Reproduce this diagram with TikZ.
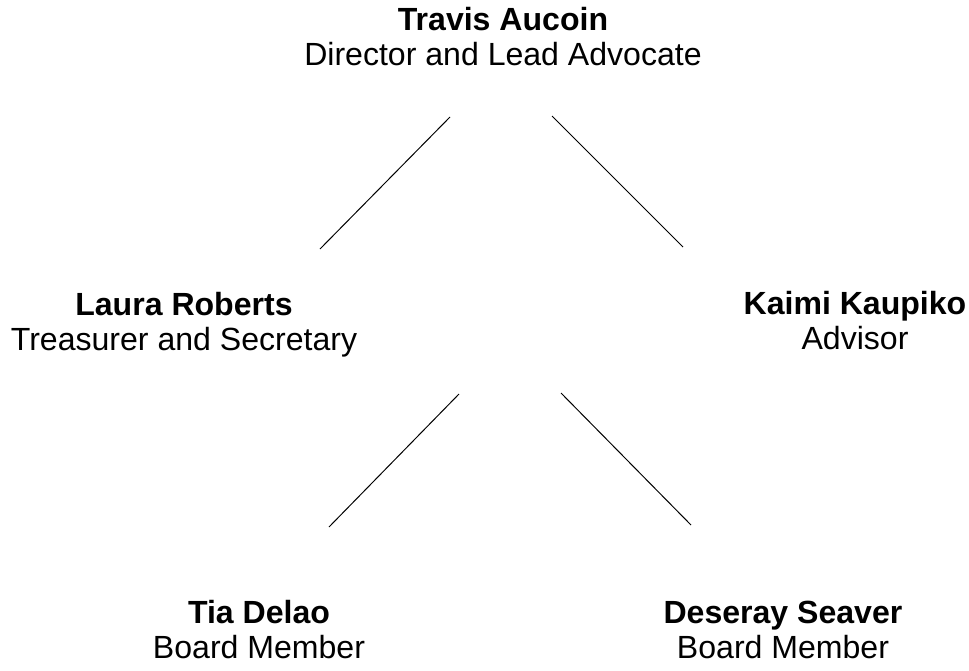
\documentclass[tikz,border=0pt]{standalone}
\usepackage{fontspec}
\setmainfont{Liberation Sans}
\usepackage{tikz}

\begin{document}
\begin{tikzpicture}[x=0.025cm, y=-0.025cm,
        person/.style={align=center, inner sep=0pt, anchor=base, font=\fontsize{22.8}{24.3}\selectfont},
        link/.style={line width=0.7pt}]
        % Frame of the picture (pixel units, y pointing down)
        \useasboundingbox (0, 0) rectangle (969, 671);

        % People (placed at the baseline of their last line)
        \node[person] (travis)  at (503, 65)  {\textbf{Travis Aucoin}\\Director and Lead Advocate};
        \node[person] (laura)   at (184, 350) {\textbf{Laura Roberts}\\Treasurer and Secretary};
        \node[person] (kaimi)   at (855, 349) {\textbf{Kaimi Kaupiko}\\Advisor};
        \node[person] (tia)     at (259, 658) {\textbf{Tia Delao}\\Board Member};
        \node[person] (deseray) at (783, 658) {\textbf{Deseray Seaver}\\Board Member};

        % Ends of the connectors
        \coordinate (travisL) at (450, 117);
        \coordinate (travisR) at (552, 116);
        \coordinate (lauraT)  at (320, 249);
        \coordinate (kaimiT)  at (683, 247);
        \coordinate (midL)    at (459, 394);
        \coordinate (midR)    at (561, 393);
        \coordinate (tiaT)    at (329, 527);
        \coordinate (deserT)  at (691, 525);

        % Connectors
        \draw[link] (travisL) -- (lauraT);
        \draw[link] (travisR) -- (kaimiT);
        \draw[link] (midL) -- (tiaT);
        \draw[link] (midR) -- (deserT);
    \end{tikzpicture}
\end{document}
